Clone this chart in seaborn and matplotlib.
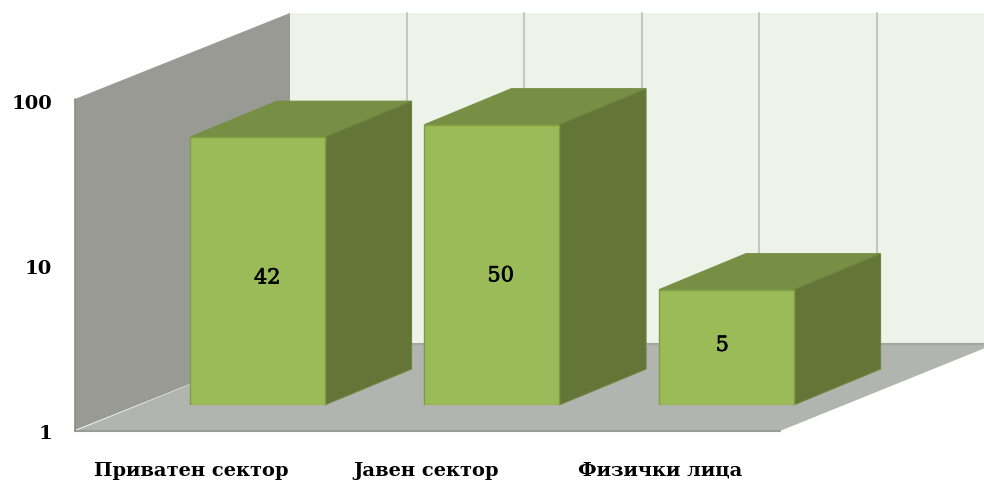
import matplotlib

matplotlib.use("Agg")

import matplotlib.patheffects as pe
import matplotlib.pyplot as plt
import pandas as pd
import seaborn as sns
from matplotlib.patches import Polygon
from matplotlib.transforms import Affine2D


CATEGORIES = ["Приватен сектор", "Јавен сектор", "Физички лица"]
VALUES = [42, 50, 5]
Y_TICKS = [1, 10, 100]
Y_TICK_LABELS = ["1", "10", "100"]

FIG_W, FIG_H = 984, 482
DEPTH_X, DEPTH_Y = 87, 36

FRONT = "#9BBB59"
FRONT_EDGE = "#7F9F42"
TOP = "#778F45"
SIDE = "#647637"
WALL = "#989A93"
FLOOR = "#B2B4AF"
BACK = "#EEF3EA"
GRID = "#C4C6C0"
FONT = "DejaVu Serif"


def px_axes(fig, left, top, right, bottom):
    return fig.add_axes([
        left / FIG_W,
        1 - bottom / FIG_H,
        (right - left) / FIG_W,
        (bottom - top) / FIG_H,
    ])


def draw_room(bg):
    # back wall, floor and left wall of the 3d box, in pixels
    bg.add_patch(Polygon([(290, 13), (984, 13), (984, 344), (290, 344)], fc=BACK, ec="none", zorder=1))
    for gx in [407, 524, 642, 759, 877]:
        bg.plot([gx, gx], [13, 344], color=GRID, lw=1.5, zorder=1.5)
    bg.add_patch(Polygon([(75, 431), (780, 431), (995, 344), (290, 344)], fc=FLOOR, ec="none", zorder=2))
    bg.plot([290, 984], [344, 344], color="#A3A5A0", lw=1.5, zorder=2.1)
    bg.plot([75, 780], [431, 431], color="#9A9C98", lw=1.5, zorder=2.1)
    bg.add_patch(Polygon([(75, 99), (290, 13), (290, 344), (75, 430)], fc=WALL, ec="none", zorder=2.2))
    bg.plot([75, 75], [99, 431], color="#8A8C88", lw=1.2, zorder=2.3)


def draw_bar_depth(ax, bg):
    # top and side faces follow the bar rectangles from seaborn
    for patch, value in zip(ax.patches, VALUES):
        x0 = patch.get_x()
        x1 = x0 + patch.get_width()
        left, top = ax.transData.transform((x0, value))
        right, bottom = ax.transData.transform((x1, ax.get_ylim()[0]))
        top, bottom = FIG_H - top, FIG_H - bottom
        bg.add_patch(Polygon(
            [(left, top), (right, top), (right + DEPTH_X, top - DEPTH_Y), (left + DEPTH_X, top - DEPTH_Y)],
            fc=TOP, ec=TOP, lw=0.8, zorder=3,
        ))
        bg.add_patch(Polygon(
            [(right, top), (right + DEPTH_X, top - DEPTH_Y), (right + DEPTH_X, bottom - DEPTH_Y), (right, bottom)],
            fc=SIDE, ec="#6F8540", lw=0.8, zorder=3,
        ))


def shift_tick_labels(labels, dx, dy):
    for label in labels:
        label.set_transform(label.get_transform() + Affine2D().translate(dx, dy))


def main():
    sns.set_style("white")
    plt.rcParams["font.family"] = [FONT, "DejaVu Sans"]

    df = pd.DataFrame({"category": CATEGORIES, "value": VALUES})

    fig = plt.figure(figsize=(FIG_W / 100, FIG_H / 100), dpi=100)
    fig.patch.set_facecolor("white")

    bg = px_axes(fig, 0, 0, FIG_W, FIG_H)
    bg.set_xlim(0, FIG_W)
    bg.set_ylim(FIG_H, 0)
    bg.axis("off")
    bg.set_zorder(0)

    ax = px_axes(fig, 140, 75, 843.5, 405)
    ax.set_zorder(1)
    ax.patch.set_visible(False)
    sns.barplot(
        data=df,
        x="category",
        y="value",
        color=FRONT,
        saturation=1,
        width=0.574,
        edgecolor=FRONT_EDGE,
        linewidth=1.0,
        log_scale=(False, True),
        ax=ax,
    )
    ax.set_xlim(-0.5, 2.5)
    ax.set_ylim(1, 100)
    ax.set_xlabel("")
    ax.set_ylabel("")
    ax.set_yticks(Y_TICKS, Y_TICK_LABELS)
    ax.minorticks_off()
    ax.tick_params(axis="both", length=0, pad=0)
    sns.despine(ax=ax, left=True, bottom=True)

    # log axis starts at 1, a zero bottom does not render
    for patch, value in zip(ax.patches, VALUES):
        patch.set_y(1)
        patch.set_height(value - 1)

    for label in ax.get_xticklabels() + ax.get_yticklabels():
        label.set_fontweight("bold")
        label.set_fontsize(14)
        label.set_color("black")
    shift_tick_labels(ax.get_xticklabels(), -66, -57)
    shift_tick_labels(ax.get_yticklabels(), -88, -27)

    draw_room(bg)
    draw_bar_depth(ax, bg)

    # value labels sit a little off the bar centres in the original
    label_shift = [(10, -7), (9, -11), (-4, 2)]
    for i, (value, shift) in enumerate(zip(VALUES, label_shift)):
        ax.annotate(
            str(value),
            xy=(i, value ** 0.5),
            xytext=shift,
            textcoords="offset pixels",
            ha="center",
            va="center",
            fontsize=15,
            color="black",
            path_effects=[pe.withStroke(linewidth=0.5, foreground="black")],
        )

    fig.savefig("out.png", dpi=100)
    plt.close(fig)


if __name__ == "__main__":
    main()
